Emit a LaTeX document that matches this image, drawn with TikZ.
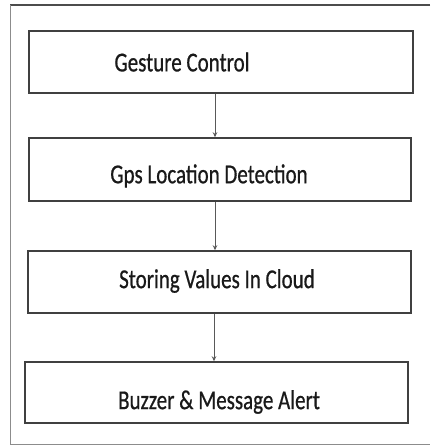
\documentclass[tikz,border=0pt]{standalone}
\usepackage{fontspec}
\setmainfont{Carlito}
\newfontfamily\lblfont{Carlito}[FakeBold=0.8]
\usetikzlibrary{arrows.meta}
\tikzset{
  stage/.style={draw=black!75, line width=1.5pt, inner sep=0pt},
  lbl/.style={font=\lblfont\fontsize{21}{24}\selectfont, text=black!90, inner sep=0pt},
  arr/.style={draw=black!65, line width=0.7pt, -{Stealth[length=5pt, width=4.5pt]}}
}
\newcommand{\tall}[1]{\scalebox{1}[1.3]{#1}}

\begin{document}
\begin{tikzpicture}[x=1pt, y=-1pt]
  \useasboundingbox (0,0) rectangle (430,446);
  % outer frame, open on the right
  \draw[black!70, line width=1.3pt] (430,5) -- (10,5);
  \draw[black!45, line width=1pt] (10,5) -- (10,444) -- (430,444);
  % stages
  \node[stage, minimum width=384pt, minimum height=62pt] (gesture) at (221,62) {};
  \node[stage, minimum width=382pt, minimum height=63pt] (gps) at (220,169.5) {};
  \node[stage, minimum width=383pt, minimum height=62pt] (cloud) at (219.5,282) {};
  \node[stage, minimum width=383pt, minimum height=61pt] (alert) at (216.5,392.5) {};
  % labels
  \node[lbl] (tgesture) at (182,62) {\tall{Gesture Control}};
  \node[lbl] (tgps) at (209,176) {\tall{Gps Location Detection}};
  \node[lbl] (tcloud) at (217,281) {\tall{Storing Values In Cloud}};
  \node[lbl] (talert) at (219,402) {\tall{Buzzer \& Message Alert}};
  % flow
  \draw[arr] ([xshift=-6pt]gesture.south) -- ([xshift=-6pt]gesture.south |- gps.north);
  \draw[arr] ([xshift=-5pt]gps.south) -- ([xshift=-5pt]gps.south |- cloud.north);
  \draw[arr] ([xshift=-5.5pt]cloud.south) -- ([xshift=-5.5pt]cloud.south |- alert.north);
\end{tikzpicture}
\end{document}
